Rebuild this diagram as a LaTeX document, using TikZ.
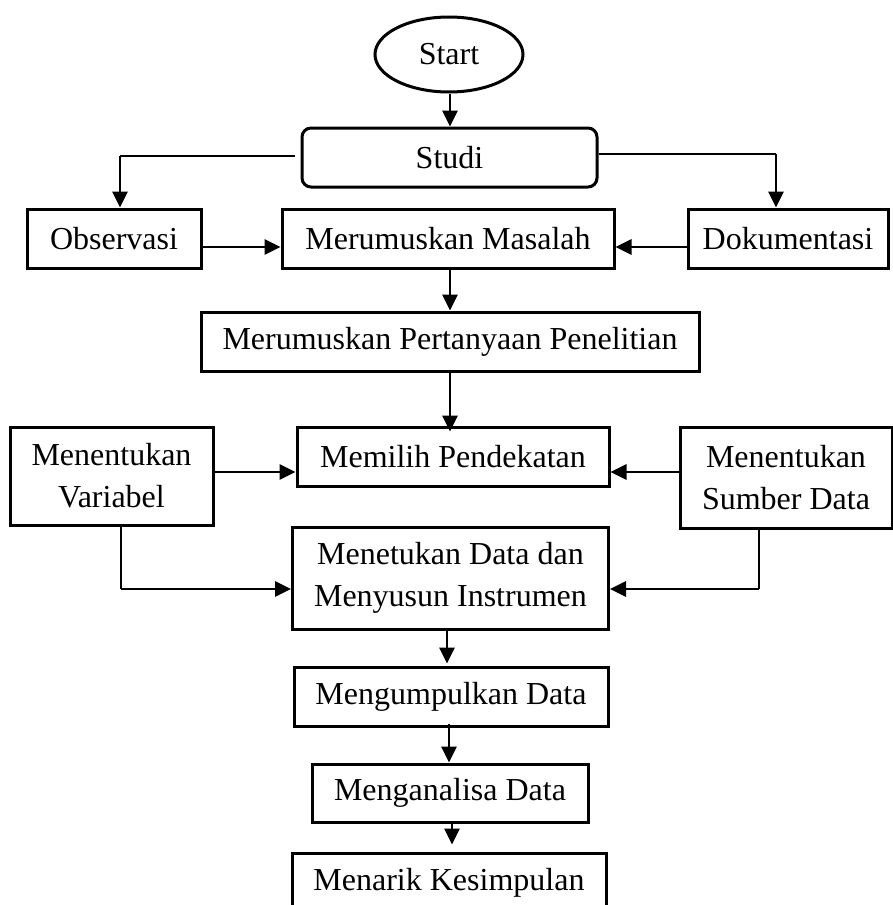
\documentclass[tikz,border=0pt]{standalone}
\usepackage{fontspec}
\setmainfont{Liberation Serif}
\usetikzlibrary{arrows.meta,shapes.geometric}
\begin{document}
\begin{tikzpicture}[x=1pt,y=-1pt,
  box/.style={draw,line width=3pt,inner sep=0pt,align=center,font=\fontsize{32}{42}\selectfont},
  arr/.style={line width=2.8pt,-{Triangle[length=16pt,width=15pt]}},
  thinln/.style={line width=1.4pt}]
\clip (0,0) rectangle (893,905);
\useasboundingbox (0,0) rectangle (893,905);
\node[box,ellipse,minimum width=148pt,minimum height=75pt] (start) at (449,54.5) {Start};
\node[box,rounded corners=9pt,minimum width=295pt,minimum height=59pt] (studi) at (449.5,157.5) {Studi};
\node[box,minimum width=174pt,minimum height=59pt] (obs) at (114,238.5) {Observasi};
\node[box,minimum width=332pt,minimum height=59pt] (mm) at (448,238.5) {Merumuskan Masalah};
\node[box,minimum width=200pt,minimum height=59pt] (dok) at (788,238.5) {Dokumentasi};
\node[box,minimum width=498pt,minimum height=59pt] (mpp) at (450,341.5) {Merumuskan Pertanyaan Penelitian};
\node[box,minimum width=203pt,minimum height=98pt] (mv) at (111.5,476) {Menentukan\\Variabel};
\node[box,minimum width=312pt,minimum height=59pt] (mp) at (453,456.5) {Memilih Pendekatan};
\node[box,minimum width=212pt,minimum height=101pt] (msd) at (786,477.5) {Menentukan\\Sumber Data};
\node[box,minimum width=316pt,minimum height=102pt] (mdi) at (450.5,578) {Menetukan Data dan\\Menyusun Instrumen};
\node[box,minimum width=314pt,minimum height=59pt] (mkd) at (451,696.5) {Mengumpulkan Data};
\node[box,minimum width=276pt,minimum height=58pt] (mad) at (450,793) {Menganalisa Data};
\node[box,minimum width=314pt,minimum height=59pt] (mks) at (449,882.5) {Menarik Kesimpulan};
% connectors
\draw[arr] (start.south -| 450,0) -- (studi.north -| 450,0);
\coordinate (sl) at (120,156);
\coordinate (sr) at (776,154);
\draw[thinln] ([xshift=-6pt]studi.west |- sl) -- (sl);
\draw[arr] (sl) -- (sl |- obs.north);
\draw[thinln] (studi.east |- sr) -- (sr);
\draw[arr] (sr) -- (sr |- dok.north);
\draw[arr] (obs.east |- 0,247) -- (mm.west |- 0,247);
\draw[arr] (dok.west |- 0,247) -- (mm.east |- 0,247);
\draw[arr] (mm.south -| 450,0) -- (mpp.north -| 450,0);
\draw[arr] (mpp.south -| 450,0) -- ([yshift=-6pt]mp.north -| 450,0);
\draw[arr] (mv.east |- 0,472) -- (mp.west |- 0,472);
\draw[arr] (msd.west |- 0,472) -- (mp.east |- 0,472);
\coordinate (vl) at (121,589);
\coordinate (vr) at (759,589);
\draw[thinln] (mv.south -| vl) -- (vl);
\draw[arr] (vl) -- (mdi.west |- vl);
\draw[thinln] (msd.south -| vr) -- (vr);
\draw[arr] (vr) -- (mdi.east |- vr);
\draw[arr] (mdi.south -| 447,0) -- ([yshift=2pt]mkd.north -| 447,0);
\draw[arr] ([yshift=4pt]mkd.south -| 449,0) -- (mad.north -| 449,0);
\draw[arr] (mad.south -| 452,0) -- ([yshift=7pt]mks.north -| 452,0);
\end{tikzpicture}
\end{document}
